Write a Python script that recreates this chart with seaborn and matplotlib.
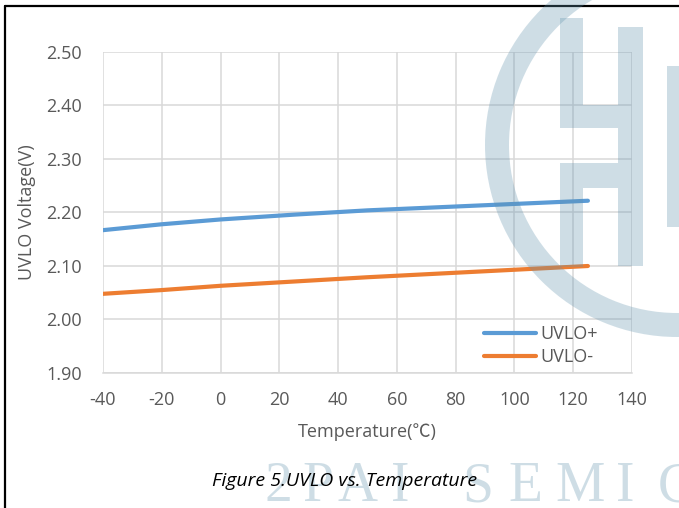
import numpy as np
import pandas as pd
import seaborn as sns
import matplotlib
matplotlib.use("Agg")
import matplotlib.pyplot as plt
from matplotlib.patches import Wedge, Rectangle
from matplotlib.lines import Line2D
from matplotlib.transforms import Affine2D

# ---- data ----
temperature = [-40, -20, 0, 25, 50, 75, 100, 125]
uvlo_plus = [2.167, 2.178, 2.187, 2.196, 2.204, 2.210, 2.216, 2.222]
uvlo_minus = [2.048, 2.055, 2.063, 2.071, 2.079, 2.086, 2.093, 2.100]
series_names = ["UVLO+", "UVLO-"]
series_colors = ["#5b9bd5", "#ed7d31"]
x_ticks = [-40, -20, 0, 20, 40, 60, 80, 100, 120, 140]
y_ticks = [1.90, 2.00, 2.10, 2.20, 2.30, 2.40, 2.50]

df = pd.DataFrame({
    "Temperature": temperature * 2,
    "Voltage": uvlo_plus + uvlo_minus,
    "Series": [series_names[0]] * len(temperature) + [series_names[1]] * len(temperature),
})

sns.set_theme(style="white")
plt.rcParams["font.family"] = ["Open Sans", "Noto Sans CJK SC", "DejaVu Sans"]

W, H = 679, 508
fig = plt.figure(figsize=(W / 100, H / 100), dpi=100)
ax = fig.add_axes([103 / W, 1 - 373 / H, (632 - 103) / W, (373 - 52) / H])

sns.lineplot(data=df, x="Temperature", y="Voltage", hue="Series",
             palette=series_colors, linewidth=3.0, ax=ax, legend=True,
             solid_capstyle="round")

ax.set_xlim(-40, 140)
ax.set_ylim(1.90, 2.50)
ax.set_xticks(x_ticks)
ax.set_yticks(y_ticks)
ax.set_xticklabels([str(t) for t in x_ticks])
ax.set_yticklabels([f"{t:.2f}" for t in y_ticks])
ax.grid(True, color="#d9d9d9", linewidth=1.1)
ax.set_axisbelow(True)
for s in ["top", "right", "left"]:
    ax.spines[s].set_visible(False)
ax.spines["bottom"].set_color("#d9d9d9")
ax.spines["bottom"].set_linewidth(1.1)
ax.tick_params(axis="both", colors="#595959", labelsize=13, length=5,
               width=1.1, direction="out", labelcolor="#595959")
ax.tick_params(axis="x", color="#d9d9d9", pad=8)
ax.tick_params(axis="y", color="#d9d9d9", pad=10)

ax.set_xlabel("Temperature(℃)", fontsize=13, color="#595959")
ax.set_ylabel("UVLO Voltage(V)", fontsize=13, color="#595959")
ax.xaxis.set_label_coords(0.5, -0.155)
ax.yaxis.set_label_coords(-0.127, 0.5)

leg = ax.legend(loc="upper left", bbox_to_anchor=((484 - 103) / 529, (373 - 325) / 321),
                frameon=False, fontsize=13, handlelength=2.9, handletextpad=0.25,
                labelspacing=0.3, borderaxespad=0, borderpad=0)
for t in leg.get_texts():
    t.set_color("#595959")
for h in leg.get_lines():
    h.set_linewidth(3.0)

# ---- title ----
fig.text(345 / W, 1 - 481 / H, "Figure 5.UVLO vs. Temperature", ha="center", va="center",
         fontsize=14, style="italic", color="black", zorder=20)

# ---- frame ----
fig.add_artist(Line2D([4.5 / W, 4.5 / W], [0, 1 - 6 / H], color="black", linewidth=1.6))
fig.add_artist(Line2D([4.5 / W, 1], [1 - 6 / H, 1 - 6 / H], color="black", linewidth=1.6))

# ---- watermark ----
px = Affine2D().scale(1 / W, -1 / H).translate(0, 1) + fig.transFigure
wm_color = (95 / 255, 145 / 255, 172 / 255)
wm_alpha = 0.3
shapes = [
    Wedge((677, 145), 192, 0, 360, width=24),
    Rectangle((560, 18), 23, 110),
    Rectangle((583, 105), 35, 23),
    Rectangle((618, 27), 25, 239),
    Rectangle((583, 163), 35, 25),
    Rectangle((560, 163), 23, 104),
    Rectangle((667, 66), 12, 161),
]
for shp in shapes:
    shp.set_transform(px)
    shp.set_facecolor(wm_color)
    shp.set_edgecolor("none")
    shp.set_alpha(wm_alpha)
    shp.set_zorder(10)
    fig.add_artist(shp)

wm_letters = ["2", "P", "A", "I", "S", "E", "M", "I", "C"]
wm_x = [278, 318, 358, 400, 478, 525, 580, 625, 676]
for ch, xx in zip(wm_letters, wm_x):
    fig.text(xx / W, 1 - 501 / H, ch, ha="center", va="baseline", fontsize=40,
             family="Liberation Serif", color=wm_color, alpha=wm_alpha, zorder=10)

fig.savefig("out.png", dpi=100)
